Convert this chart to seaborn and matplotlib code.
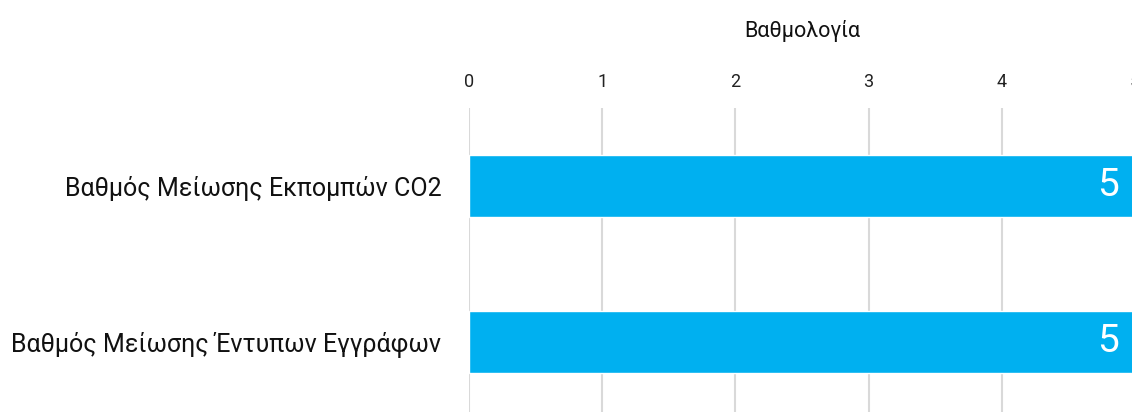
import pandas as pd
import matplotlib
matplotlib.use("Agg")
import matplotlib.pyplot as plt
import seaborn as sns

# data
categories = ["Βαθμός Μείωσης Εκπομπών CO2", "Βαθμός Μείωσης Έντυπων Εγγράφων"]
scores = [5, 5]
xticks = [0, 1, 2, 3, 4, 5]

df = pd.DataFrame({"category": categories, "score": scores})

sns.set_theme(style="white")
plt.rcParams["font.family"] = ["Roboto", "DejaVu Sans"]

fig = plt.figure(figsize=(11.32, 4.12), dpi=100)
ax = fig.add_axes([469 / 1132, 1 - 420 / 412, (1135 - 469) / 1132, (420 - 108) / 412])

sns.barplot(data=df, x="score", y="category", orient="h", color="#00B0F0",
            width=0.4, saturation=1, ax=ax, zorder=2)

ax.set_xlim(0, 5)
ax.set_ylim(1.5, -0.5)
ax.set_xticks(xticks)
ax.xaxis.tick_top()
ax.xaxis.set_label_position("top")
ax.tick_params(axis="x", length=0, pad=12, labelsize=13, colors="#222222")
ax.tick_params(axis="y", length=0, pad=20, labelsize=18, colors="#111111")
ax.set_xlabel("Βαθμολογία", fontsize=15.5, labelpad=26, color="#111111")
ax.set_ylabel("")
ax.grid(axis="x", color="#d9d9d9", linewidth=1.5, zorder=0)
ax.grid(axis="y", visible=False)
for s in ax.spines.values():
    s.set_visible(False)

for i, v in enumerate(scores):
    ax.text(v - 0.12, i, str(v), ha="right", va="center", color="white",
            fontsize=28, zorder=3)

fig.savefig("out.png", dpi=100)
